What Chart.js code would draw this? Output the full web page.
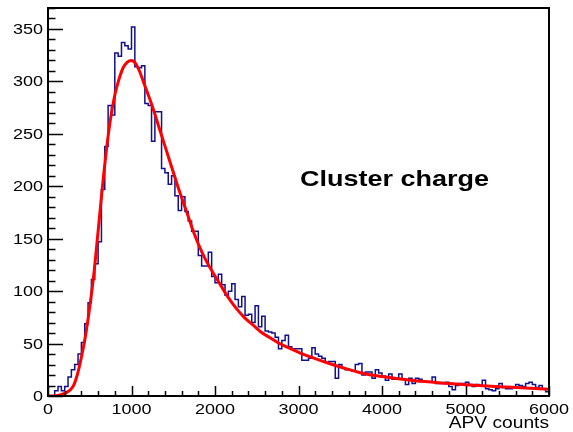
<!DOCTYPE html>
<html>
<head>
<meta charset="utf-8">
<script src="https://cdn.jsdelivr.net/npm/chart.js@4"></script>
<style>
  html, body { margin: 0; padding: 0; background: #fff; }
  canvas { display: block; }
</style>
</head>
<body>
<canvas id="c" width="573" height="432"></canvas>
<script>
// cluster charge spectrum, 40-count bins from 0 to 6000
const binWidth = 40;
const counts = [
  0, 0, 5, 9, 5, 9, 18, 25, 30, 40,
  51, 69, 89, 111, 126, 147, 197, 238, 277, 268,
  327, 324, 337, 334, 331, 352, 314, 313, 315, 279,
  277, 243, 271, 271, 217, 213, 202, 210, 191, 177,
  190, 176, 167, 157, 157, 134, 124, 124, 137, 114,
  108, 116, 106, 96, 100, 107, 92, 85, 95, 77,
  78, 70, 86, 66, 76, 62, 61, 60, 56, 45,
  53, 58, 47, 45, 45, 45, 34, 34, 36, 46,
  40, 38, 36, 32, 33, 33, 17, 30, 27, 25,
  25, 24, 30, 31, 20, 23, 23, 17, 25, 22,
  19, 15, 21, 16, 16, 21, 16, 11, 17, 12,
  17, 16, 14, 13, 13, 18, 12, 12, 12, 13,
  9, 6, 10, 12, 12, 13, 11, 9, 11, 10,
  15, 7, 6, 5, 7, 12, 8, 7, 7, 8,
  11, 10, 9, 12, 13, 11, 8, 10, 7, 4
];

// landau fit, sampled
const fitX = [0, 100, 200, 300, 350, 400, 450, 500, 550, 600,
  650, 700, 750, 800, 850, 900, 950, 1000, 1050, 1100,
  1150, 1250, 1350, 1450, 1550, 1650, 1750, 1850, 1950, 2050,
  2150, 2250, 2350, 2450, 2550, 2650, 2750, 2850, 2950, 3050,
  3150, 3350, 3550, 3750, 4000, 4400, 4800, 5000, 5500, 6000];
const fitY = [0, 0.3, 2.5, 9, 20, 37, 58, 85, 117, 157,
  198, 235, 265, 287, 302, 313, 318.5, 320, 317, 309,
  298, 276, 251, 226, 201, 178, 155, 136, 121, 108,
  95, 84, 75, 68, 61, 56, 51, 47, 43.5, 40,
  37, 31.5, 26.5, 22, 18.5, 14.5, 12, 10.8, 8.5, 6.5];

const xTicks = [0, 1000, 2000, 3000, 4000, 5000, 6000];
const yTicks = [0, 50, 100, 150, 200, 250, 300, 350];
const xTitle = 'APV counts';
const label = 'Cluster charge';

// step outline: each point holds its value up to the next bin edge
const histPoints = counts.map((v, i) => ({ x: i * binWidth, y: v }));
histPoints.push({ x: counts.length * binWidth, y: counts[counts.length - 1] });
const fitPoints = fitX.map((x, i) => ({ x: x, y: fitY[i] }));

const SX = 1.2; // text is drawn a little wide

function wideText(ctx, text, x, y, align) {
  ctx.save();
  ctx.translate(x, y);
  ctx.scale(SX, 1);
  ctx.textAlign = align;
  ctx.fillText(text, 0, 0);
  ctx.restore();
}

const frameAxes = {
  id: 'frameAxes',
  afterDraw(chart) {
    const ctx = chart.ctx;
    const a = chart.chartArea;
    const xs = chart.scales.x, ys = chart.scales.y;
    ctx.save();
    ctx.strokeStyle = '#000';
    ctx.lineWidth = 2;
    ctx.strokeRect(a.left, a.top, a.right - a.left, a.bottom - a.top);

    ctx.lineWidth = 1.5;
    ctx.beginPath();
    for (let v = 0; v <= ys.max; v += 10) {
      const y = Math.round(ys.getPixelForValue(v)) + 0.5;
      const len = v % 50 === 0 ? 15 : 7.5;
      ctx.moveTo(a.left, y);
      ctx.lineTo(a.left + len, y);
    }
    for (let v = 0; v <= xs.max; v += 200) {
      const x = Math.round(xs.getPixelForValue(v)) + 0.5;
      const len = v % 1000 === 0 ? 10 : 5;
      ctx.moveTo(x, a.bottom);
      ctx.lineTo(x, a.bottom - len);
    }
    ctx.stroke();

    ctx.fillStyle = '#000';
    ctx.textBaseline = 'alphabetic';
    ctx.font = '15px "Liberation Sans", Arial, sans-serif';
    yTicks.forEach(v => {
      const y = ys.getPixelForValue(v);
      wideText(ctx, String(v), a.left - 5, y + 5, 'right');
    });
    xTicks.forEach(v => {
      const x = xs.getPixelForValue(v);
      ctx.save();
      ctx.translate(x, 414);
      ctx.scale(SX, 1);
      ctx.textAlign = 'center';
      ctx.fillText(String(v), 0, 0);
      ctx.restore();
    });

    ctx.font = '16px "Liberation Sans", Arial, sans-serif';
    wideText(ctx, xTitle, a.right, 428, 'right');

    ctx.font = 'bold 22.5px "Liberation Sans", Arial, sans-serif';
    wideText(ctx, label, 300, 186, 'left');
    ctx.restore();
  }
};

new Chart(document.getElementById('c'), {
  type: 'line',
  data: {
    datasets: [
      {
        label: 'fit',
        data: fitPoints,
        borderColor: '#ff0000',
        borderWidth: 3,
        pointRadius: 0,
        cubicInterpolationMode: 'monotone',
        order: 0
      },
      {
        label: 'hist',
        data: histPoints,
        borderColor: '#101090',
        borderWidth: 1.5,
        pointRadius: 0,
        stepped: 'before',
        order: 1
      }
    ]
  },
  options: {
    responsive: false,
    animation: false,
    devicePixelRatio: 1,
    layout: { padding: { left: 48, top: 8, right: 24, bottom: 36 } },
    plugins: { legend: { display: false }, tooltip: { enabled: false } },
    scales: {
      x: { type: 'linear', min: 0, max: 6000, display: false },
      y: { type: 'linear', min: 0, max: 370, display: false }
    }
  },
  plugins: [frameAxes]
});
</script>
</body>
</html>
